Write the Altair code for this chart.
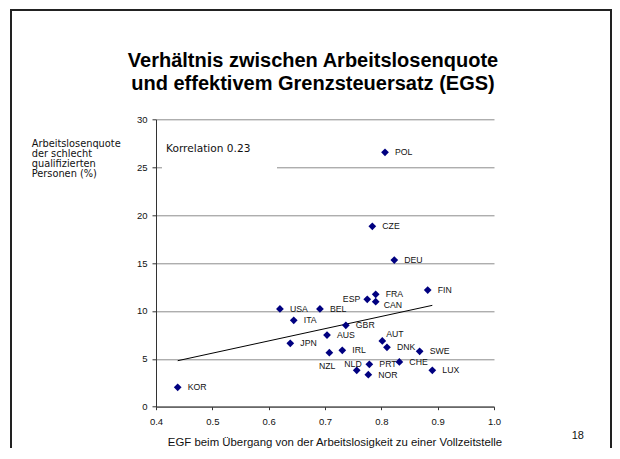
import altair as alt
import pandas as pd

# ---- data ----
countries = ["KOR", "USA", "BEL", "ITA", "JPN", "AUS", "GBR", "NZL", "IRL", "ESP",
             "FRA", "CAN", "FIN", "AUT", "DNK", "SWE", "CHE", "PRT", "NLD", "NOR",
             "LUX", "POL", "CZE", "DEU"]
egf = [0.4385, 0.620, 0.691, 0.6445, 0.6384, 0.7036, 0.737, 0.7077, 0.7307, 0.775,
       0.790, 0.790, 0.8823, 0.8017, 0.810, 0.868, 0.832, 0.7787, 0.7563, 0.7769,
       0.8905, 0.8065, 0.784, 0.823]
unemp = [2.03, 10.2, 10.2, 9.02, 6.62, 7.48, 8.50, 5.64, 5.89, 11.21,
         11.73, 10.96, 12.18, 6.86, 6.20, 5.78, 4.67, 4.43, 3.80, 3.34,
         3.80, 26.56, 18.83, 15.31]
trend_x = [0.4385, 0.8905]
trend_y = [4.80, 10.58]
x_ticks = [0.4, 0.5, 0.6, 0.7, 0.8, 0.9, 1.0]
y_ticks = [0, 5, 10, 15, 20, 25, 30]
title_lines = ["Verhältnis zwischen Arbeitslosenquote",
               "und effektivem Grenzsteuersatz (EGS)"]
y_title_lines = ["Arbeitslosenquote", "der schlecht", "qualifizierten", "Personen (%)"]
x_title = "EGF beim Übergang von der Arbeitslosigkeit zu einer Vollzeitstelle"
corr_text = "Korrelation 0.23"
page_number = "18"

df = pd.DataFrame({"country": countries, "egf": egf, "unemp": unemp})
trend_df = pd.DataFrame({"egf": trend_x, "unemp": trend_y})

W, H = 338, 287.4
AX = "Liberation Sans"

xenc = alt.X("egf:Q", scale=alt.Scale(domain=[0.4, 1.0], nice=False, zero=False),
             axis=alt.Axis(values=x_ticks, format=".1f", grid=False, tickSize=3,
                           labelPadding=7, domainColor="#333333", tickColor="#333333",
                           labelFont=AX, labelFontSize=9.5, labelColor="#111111",
                           labelFlush=False, labelOverlap=False, title=None))
yenc = alt.Y("unemp:Q", scale=alt.Scale(domain=[0, 30], nice=False, zero=False),
             axis=alt.Axis(values=y_ticks, grid=True, gridColor="#8c8c8c", gridWidth=1,
                           tickSize=4, labelPadding=5, domainColor="#333333",
                           tickColor="#333333", labelFont=AX, labelFontSize=9.5,
                           labelColor="#111111", labelFlush=False, labelOverlap=False,
                           title=None))

one = alt.Data(values=[{}])

border = alt.Chart(one).mark_rect(fillOpacity=0, stroke="#222222", strokeWidth=2).encode(
    x=alt.value(-145), x2=alt.value(455), y=alt.value(-109.3), y2=alt.value(380))

gap = alt.Chart(one).mark_rect(fill="white").encode(
    x=alt.value(6), x2=alt.value(121), y=alt.value(20.7), y2=alt.value(52.7))

trend = alt.Chart(trend_df).mark_line(color="black", strokeWidth=1).encode(x=xenc, y=yenc)

points = alt.Chart(df).mark_point(shape="diamond", filled=True, color="#000080",
                                  size=60, opacity=1).encode(x=xenc, y=yenc)

special = ["ESP", "NZL", "NLD", "AUT", "CAN"]


def lab(filter_pred, **kw):
    base = dict(fontSize=8.7, font=AX, color="#111111", baseline="middle")
    base.update(kw)
    return alt.Chart(df).transform_filter(filter_pred).mark_text(**base).encode(
        x=xenc, y=yenc, text="country:N")


labels_default = lab(~alt.FieldOneOfPredicate(field="country", oneOf=special),
                     align="left", dx=10)
lab_esp = lab(alt.FieldEqualPredicate(field="country", equal="ESP"), align="right", dx=-7)
lab_nzl = lab(alt.FieldEqualPredicate(field="country", equal="NZL"), align="right", dx=6, dy=13)
lab_nld = lab(alt.FieldEqualPredicate(field="country", equal="NLD"), align="right", dx=5, dy=-6)
lab_aut = lab(alt.FieldEqualPredicate(field="country", equal="AUT"), align="left", dx=4, dy=-7)
lab_can = lab(alt.FieldEqualPredicate(field="country", equal="CAN"), align="left", dx=8, dy=3)


def ptext(txt, x, y, **kw):
    base = dict(font=AX, fontSize=10, align="left", baseline="alphabetic", color="#111111")
    base.update(kw)
    return alt.Chart(alt.Data(values=[{"t": txt}])).mark_text(**base).encode(
        x=alt.value(x), y=alt.value(y), text="t:N")


title_layers = [ptext(t, 157, -52 + 22.7 * i, fontSize=20, fontWeight="bold",
                      align="center", color="black")
                for i, t in enumerate(title_lines)]
ytitle_layers = [ptext(t, -124.3, 27.4 + 10.1 * i, font="DejaVu Sans", fontSize=9.8)
                 for i, t in enumerate(y_title_lines)]
xtitle = ptext(x_title, 179, 326.5, fontSize=11.4, align="center")
corr = ptext(corr_text, 10, 32.4, font="DejaVu Sans", fontSize=10.6)
pnum = ptext(page_number, 421.8, 320, fontSize=11, align="center")

chart = alt.layer(
    border, gap, trend, points, labels_default, lab_esp, lab_nzl, lab_nld, lab_aut, lab_can,
    *title_layers, *ytitle_layers, xtitle, corr, pnum
).properties(
    width=W, height=H,
    autosize=alt.AutoSizeParams(type="none"),
    padding={"left": 148, "top": 111.3, "right": 118, "bottom": 41.3},
).configure_view(strokeWidth=0)

chart.save("out.html", embed_options={"renderer": "svg", "actions": False})
